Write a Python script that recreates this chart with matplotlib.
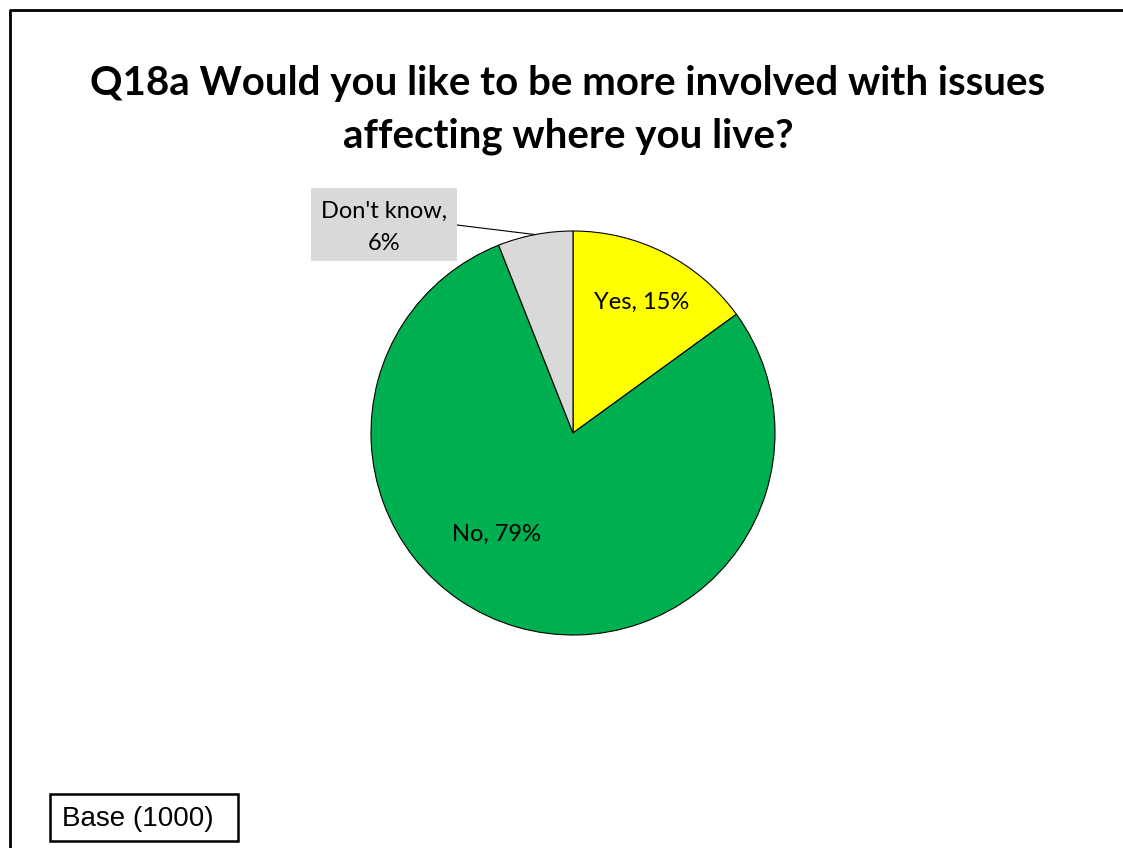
import numpy as np
import matplotlib.pyplot as plt
from matplotlib.patches import Rectangle

# survey answers, clockwise from 12 o'clock
answers = ['Yes', 'No', "Don't know"]
shares = [15, 79, 6]
colours = ['#ffff00', '#00b050', '#d9d9d9']

title = 'Q18a Would you like to be more involved with issues\naffecting where you live?'
base_note = 'Base (1000)'

W, H = 1123, 848
fig = plt.figure(figsize=(W / 100, H / 100), dpi=100)
ax = fig.add_axes([0, 0, 1, 1])

cx, cy, r = 573, H - 433, 202
wedges, _ = ax.pie(shares, colors=colours, startangle=90, counterclock=False,
                   center=(cx, cy), radius=r,
                   wedgeprops=dict(edgecolor='black', linewidth=0.8))
ax.set_xlim(0, W)
ax.set_ylim(0, H)
ax.set_aspect('equal')
ax.axis('off')

lab_font = dict(family='Lato', fontsize=17)

# Yes / No labels inside their slices
ax.text(642, H - 302, f'{answers[0]}, {shares[0]}%', ha='center', va='center', **lab_font)
ax.text(497, H - 534, f'{answers[1]}, {shares[1]}%', ha='center', va='center', **lab_font)

# Don't know label sits outside with a leader line to the slice edge
w = wedges[2]
mid = np.deg2rad((w.theta1 + w.theta2) / 2)
ex, ey = cx + r * np.cos(mid), cy + r * np.sin(mid)
ax.plot([457, ex], [H - 225, ey], color='black', lw=0.8, zorder=1)
ax.add_patch(Rectangle((311, H - 261), 146, 73, facecolor='#d9d9d9', edgecolor='none', zorder=2))
ax.text(384, H - 227, f'{answers[2]},\n{shares[2]}%', ha='center', va='center',
        linespacing=1.65, zorder=3, **lab_font)

ax.text(568, H - 110, title, ha='center', va='center', fontsize=29,
        fontweight='bold', family='Lato', linespacing=1.5)

# base size box
ax.add_patch(Rectangle((50, H - 841), 188, 47, facecolor='white', edgecolor='black', lw=1.8))
ax.text(62, H - 819, base_note, ha='left', va='center', fontsize=20, family='Liberation Sans')

# chart area border running off the right and bottom edges
ax.plot([10, 10, W + 5], [-5, H - 10, H - 10], color='black', lw=2, clip_on=False)

fig.savefig('out.png', dpi=100)
